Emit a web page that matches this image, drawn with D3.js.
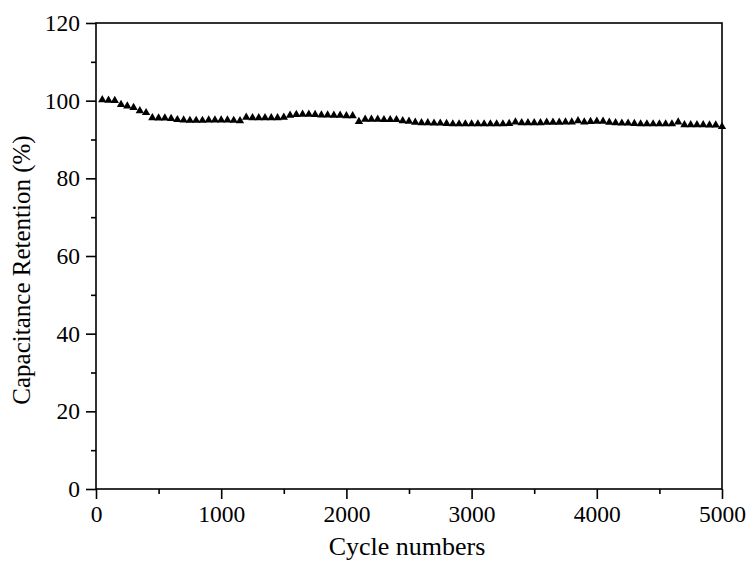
<!DOCTYPE html>
<html>
<head>
<meta charset="utf-8">
<script src="https://cdn.jsdelivr.net/npm/d3@7"></script>
<style>
  body { margin: 0; background: #fff; }
  text { font-family: "Liberation Serif", "Times New Roman", serif; fill: #000; }
</style>
</head>
<body>
<svg id="chart" width="751" height="566"></svg>
<script>
// cycle numbers of each measured point
const cycles = [50, 100, 150, 200, 250, 300, 350, 400, 450, 500,
  550, 600, 650, 700, 750, 800, 850, 900, 950, 1000,
  1050, 1100, 1150, 1200, 1250, 1300, 1350, 1400, 1450, 1500,
  1550, 1600, 1650, 1700, 1750, 1800, 1850, 1900, 1950, 2000,
  2050, 2100, 2150, 2200, 2250, 2300, 2350, 2400, 2450, 2500,
  2550, 2600, 2650, 2700, 2750, 2800, 2850, 2900, 2950, 3000,
  3050, 3100, 3150, 3200, 3250, 3300, 3350, 3400, 3450, 3500,
  3550, 3600, 3650, 3700, 3750, 3800, 3850, 3900, 3950, 4000,
  4050, 4100, 4150, 4200, 4250, 4300, 4350, 4400, 4450, 4500,
  4550, 4600, 4650, 4700, 4750, 4800, 4850, 4900, 4950, 5000];

// capacitance retention (%)
const retention = [100.2, 100.1, 100.0, 99.0, 98.6, 98.2, 97.4, 96.9, 95.6, 95.5,
  95.5, 95.4, 95.1, 95.0, 94.9, 94.9, 94.9, 95.0, 95.0, 95.0,
  95.0, 94.9, 94.8, 95.7, 95.6, 95.6, 95.6, 95.6, 95.6, 95.7,
  96.2, 96.4, 96.5, 96.5, 96.4, 96.3, 96.3, 96.2, 96.2, 96.1,
  96.1, 94.6, 95.2, 95.2, 95.2, 95.1, 95.1, 95.1, 94.8, 94.7,
  94.4, 94.3, 94.3, 94.2, 94.2, 94.1, 94.0, 94.0, 94.0, 94.0,
  94.0, 94.0, 94.0, 94.0, 94.0, 94.1, 94.5, 94.3, 94.3, 94.3,
  94.3, 94.4, 94.4, 94.4, 94.5, 94.5, 94.8, 94.5, 94.6, 94.7,
  94.7, 94.4, 94.3, 94.2, 94.2, 94.1, 94.0, 94.0, 94.0, 94.0,
  94.0, 94.0, 94.5, 93.8, 93.8, 93.8, 93.8, 93.7, 93.7, 93.3];

const xTicks = [0, 1000, 2000, 3000, 4000, 5000];
const xMinor = [500, 1500, 2500, 3500, 4500];
const yTicks = [0, 20, 40, 60, 80, 100, 120];
const yMinor = [10, 30, 50, 70, 90, 110];

const margin = {left: 96, right: 29, top: 23, bottom: 77};
const width = 751, height = 566;
const w = width - margin.left - margin.right;
const h = height - margin.top - margin.bottom;
const serif = '"Liberation Serif", "Times New Roman", serif';

const svg = d3.select('#chart');
const g = svg.append('g').attr('transform', `translate(${margin.left},${margin.top})`);

const x = d3.scaleLinear().domain([0, 5000]).range([0, w]);
const y = d3.scaleLinear().domain([0, 120]).range([h, 0]);

// frame
g.append('rect')
  .attr('width', w).attr('height', h)
  .attr('fill', 'none').attr('stroke', '#000').attr('stroke-width', 1.6);

// minor ticks
g.append('g').attr('transform', `translate(0,${h})`)
  .call(d3.axisBottom(x).tickValues(xMinor).tickSize(5).tickFormat(''))
  .call(a => a.select('.domain').remove())
  .selectAll('line').attr('stroke-width', 1.6);
g.append('g')
  .call(d3.axisLeft(y).tickValues(yMinor).tickSize(5).tickFormat(''))
  .call(a => a.select('.domain').remove())
  .selectAll('line').attr('stroke-width', 1.6);

// major ticks
const xAxis = g.append('g').attr('transform', `translate(0,${h})`)
  .call(d3.axisBottom(x).tickValues(xTicks).tickSize(10).tickPadding(6).tickFormat(d3.format('d')))
  .attr('font-family', serif).attr('font-size', 23.5);
xAxis.select('.domain').remove();
xAxis.selectAll('line').attr('stroke-width', 1.6);
xAxis.selectAll('text').attr('dy', '0.72em');

const yAxis = g.append('g')
  .call(d3.axisLeft(y).tickValues(yTicks).tickSize(10).tickPadding(6).tickFormat(d3.format('d')))
  .attr('font-family', serif).attr('font-size', 23.5);
yAxis.select('.domain').remove();
yAxis.selectAll('line').attr('stroke-width', 1.6);

// data markers
const tri = d3.symbol().type(d3.symbolTriangle).size(30);
g.append('g').selectAll('path')
  .data(cycles)
  .join('path')
  .attr('d', tri)
  .attr('transform', (c, i) => `translate(${x(c)},${y(retention[i])})`)
  .attr('fill', '#000');

// axis titles
svg.append('text')
  .attr('x', margin.left + w / 2 - 2).attr('y', 555)
  .attr('text-anchor', 'middle')
  .style('font-size', '26px')
  .text('Cycle numbers');

svg.append('text')
  .attr('transform', `translate(30,${margin.top + h / 2 + 14}) rotate(-90)`)
  .attr('text-anchor', 'middle')
  .style('font-size', '25px')
  .text('Capacitance Retention (%)');
</script>
</body>
</html>
